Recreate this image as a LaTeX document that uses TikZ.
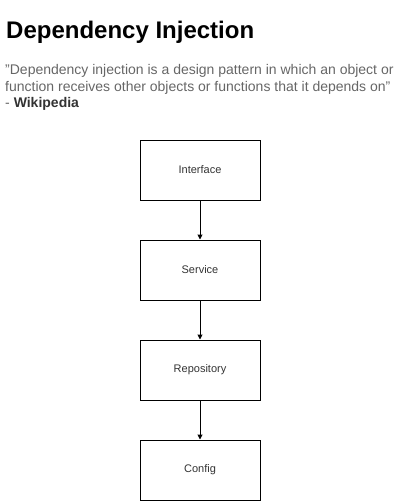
\documentclass[tikz,border=0pt]{standalone}
\usepackage{fontspec}
\setmainfont{Liberation Sans}
\usetikzlibrary{arrows.meta}
\definecolor{quotegray}{HTML}{666666}
\definecolor{darktxt}{HTML}{333333}
\tikzset{
  stepbox/.style={draw=black, line width=1pt, minimum width=120pt, minimum height=60pt, inner sep=0pt, font=\fontsize{11}{13}\selectfont, text=darktxt},
  link/.style={draw=black, line width=1pt, -{Triangle[length=5pt,width=5pt]}},
  title/.style={anchor=base west, inner sep=0pt, font=\fontsize{24}{28}\bfseries\selectfont, text=black},
  quoteline/.style={anchor=base west, inner sep=0pt, font=\fontsize{14}{16.5}\selectfont, text=quotegray}
}
\begin{document}
\begin{tikzpicture}[x=1pt,y=-1pt]
  \useasboundingbox (0,0) rectangle (402,501);
  \node[title] (t) at (6,38) {Dependency Injection};
  \node[quoteline] (q1) at (5,74.3) {"Dependency injection is a design pattern in which an object or};
  \node[quoteline] (q2) at (5,91) {function receives other objects or functions that it depends on"};
  \node[quoteline] (q3) at (5,107.5) {- \textcolor{darktxt}{\bfseries Wikipedia}};
  \node[stepbox] (i) at (200,170) {Interface};
  \node[stepbox] (s) at (200,270) {Service};
  \node[stepbox] (r) at (200,370) {Repository};
  \node[stepbox] (c) at (200,470) {Config};
  \draw[link] (i) -- (s);
  \draw[link] (s) -- (r);
  \draw[link] (r) -- (c);
\end{tikzpicture}
\end{document}
